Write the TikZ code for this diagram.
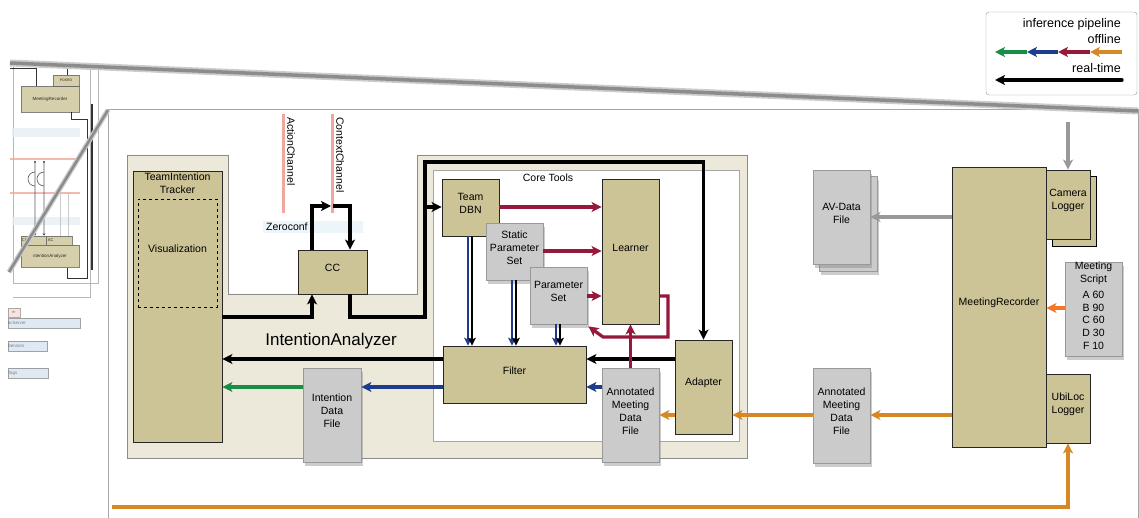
\documentclass[tikz,border=0pt]{standalone}
\usepackage{fontspec}
\setmainfont{Liberation Sans}
\usetikzlibrary{arrows.meta,shadows,fit,calc}
\definecolor{khaki}{RGB}{204,196,150}
\definecolor{bgbeige}{RGB}{236,233,218}
\definecolor{filegrey}{RGB}{203,203,203}
\definecolor{cgreen}{RGB}{25,140,70}
\definecolor{cblue}{RGB}{30,60,140}
\definecolor{cred}{RGB}{150,25,60}
\definecolor{corange}{RGB}{215,135,35}
\definecolor{corangeb}{RGB}{242,120,40}
\definecolor{pinkline}{RGB}{240,168,158}
\definecolor{zeroblue}{RGB}{236,245,250}
\definecolor{thumbblue}{RGB}{214,228,240}
\tikzset{
  box/.style={draw=black!85, fill=khaki, line width=0.8pt, inner sep=0pt, align=center, font=\fontsize{10.5}{13}\selectfont},
  filebox/.style={box, fill=filegrey, draw=black!40, drop shadow={shadow xshift=2pt, shadow yshift=-4pt, opacity=0.4}},
  lbl/.style={font=\fontsize{10.5}{13}\selectfont, align=center, inner sep=1pt},
  arr/.style={line width=3.2pt, -{Stealth[length=10pt,width=10pt,inset=2.5pt]}},
  thinarr/.style={line width=2.6pt, -{Stealth[length=8pt,width=8pt,inset=2pt]}},
  blk/.style={arr, draw=black},
  grn/.style={arr, draw=cgreen},
  blu/.style={arr, draw=cblue},
  rd/.style={arr, draw=cred},
  org/.style={arr, draw=corange},
  gry/.style={arr, draw=black!40},
  tbox/.style={draw=black!60, fill=khaki, line width=0.5pt, inner sep=0pt, font=\fontsize{4.5}{5}\selectfont},
  tblue/.style={draw=black!45, fill=thumbblue, line width=0.5pt, inner sep=0pt, font=\fontsize{4.5}{5}\selectfont, text=black!60},
}
\begin{document}
\begin{tikzpicture}[x=1pt,y=-1pt]
\useasboundingbox (0,0) rectangle (1139,518);
\fill[white] (0,0) rectangle (1139,518);

% ---------- thumbnail (faded) ----------
\begin{scope}[opacity=0.8]
  \draw[black!35, line width=0.7pt] (13,63) rectangle (98,283);
  \draw[black!35, line width=0.7pt] (13,297) -- (90,297) -- (90,63);
  \fill[thumbblue!60] (12,128) rectangle (80,137);
  \fill[thumbblue!60] (12,217) rectangle (80,225);
  \draw[pinkline, line width=2.5pt] (10,159) -- (80,159);
  \draw[pinkline, line width=2.5pt] (10,193) -- (80,193);
  \node[tbox, fit={(21,86) (79,112)}] (tmr) {};
  \node[font=\fontsize{4.5}{5}\selectfont, inner sep=0pt] (tmrl) at (tmr.center) {MeetingRecorder};
  \node[tbox, fit={(53,75) (79,86)}] (tpos) {};
  \node[font=\fontsize{3.5}{4}\selectfont, inner sep=0pt] (tposl) at (tpos.center) {POSRD};
  \draw[black, line width=0.7pt] (10,68) -- (36,68) -- (tmr.north -| 36,0);
  \draw[black, line width=0.7pt] (67,63) -- (tpos.north -| 67,0);
  \draw[black, line width=0.7pt] (tmr.south -| 71,0) -- (71,119) -- (87,119) -- (87,278) -- (67,278) -- (67,268);
  \draw[black, line width=1.6pt] (92,104) -- (92,270);
  \node[tbox, fit={(21,236) (46,245)}] (tcc) {};
  \node[font=\fontsize{4}{4.5}\selectfont, inner sep=0pt, anchor=west] (tccl) at ([xshift=1pt]tcc.west) {CC};
  \node[tbox, fit={(46,236) (72,245)}] (tac) {};
  \node[font=\fontsize{4}{4.5}\selectfont, inner sep=0pt, anchor=west] (tacl) at ([xshift=2pt]tac.west) {AC};
  \node[tbox, fit={(21,245) (79,267)}] (tia) {};
  \node[font=\fontsize{4.5}{5}\selectfont, inner sep=0pt] (tial) at (tia.center) {ntentionAnalyzer};
  \draw[black!80, line width=0.6pt, -{Stealth[length=2.5pt,width=2.5pt]}] (35,162) -- (35,186) arc[start angle=-90, end angle=-270, radius=7pt] -- (tcc.north -| 35,0);
  \draw[black!80, line width=0.6pt, -{Stealth[length=2.5pt,width=2.5pt]}] (44,162) -- (44,186) arc[start angle=-90, end angle=-270, radius=7pt] -- (tcc.north -| 44,0);
  \fill[black] (35,162) circle (1pt) (44,162) circle (1pt);
  \draw[black!25, line width=0.4pt] (60,193) -- (60,236) (68,193) -- (68,236);
  \node[draw=black!40, fill=pinkline!40, inner sep=0pt, fit={(8,308) (20,317)}] (ter) {};
  \node[font=\fontsize{4}{4.5}\selectfont, inner sep=0pt, text=black!60] (terl) at (ter.center) {er};
  \node[tblue, fit={(8,318) (80,328)}] (tserver) {};
  \node[font=\fontsize{4.5}{5}\selectfont, inner sep=0pt, anchor=west, text=black!60] (tserverl) at (tserver.west) {ocServer};
  \node[tblue, fit={(8,341) (47,351)}] (tsens) {};
  \node[font=\fontsize{4.5}{5}\selectfont, inner sep=0pt, anchor=west, text=black!60] (tsensl) at (tsens.west) {Sensors};
  \node[tblue, fit={(8,368) (48,378)}] (ttags) {};
  \node[font=\fontsize{4.5}{5}\selectfont, inner sep=0pt, anchor=west, text=black!60] (ttagsl) at (ttags.west) {Tags};
\end{scope}

% ---------- big frame and zoom bands ----------
\draw[black!35, line width=1pt] (108,520) -- (108,110) -- (1138,110) -- (1138,520);
\draw[black!20, line width=7pt] (10,63) -- (1138,111);
\draw[black!45, line width=3.5pt] (10,63) -- (1138,111);
\draw[black!20, line width=5pt] (9,272) -- (108,110);
\draw[black!45, line width=2.5pt] (9,272) -- (108,110);

% ---------- legend ----------
\node[draw=black!40, fill=white, rounded corners=3pt, inner sep=0pt, fit={(986,12) (1137,95)}] (legend) {};
\node[lbl, font=\fontsize{12.5}{14}\selectfont, anchor=east] (lg1) at (1122,24) {inference pipeline};
\node[lbl, font=\fontsize{12.5}{14}\selectfont, anchor=east] (lg2) at (1122,39) {offline};
\node[lbl, font=\fontsize{12.5}{14}\selectfont, anchor=east] (lg3) at (1122,68) {real-time};
\coordinate (la0) at (1122,52);
\coordinate (la1) at (1090,52);
\coordinate (la2) at (1058,52);
\coordinate (la3) at (1027,52);
\coordinate (la4) at (995,52);
\draw[org] (la0) -- (la1);
\draw[rd] (la1) -- (la2);
\draw[blu] (la2) -- (la3);
\draw[grn] (la3) -- (la4);
\coordinate (lb0) at (1122,80);
\coordinate (lb1) at (995,80);
\draw[blk, line cap=round] (lb0) -- (lb1);

% ---------- IntentionAnalyzer region ----------
\draw[black!45, line width=0.8pt, fill=bgbeige] (127,155) -- (228,155) -- (228,294) -- (417,294) -- (417,155) -- (747,155) -- (747,458) -- (127,458) -- cycle;
\draw[black!35, line width=0.8pt, fill=white] (433,170) rectangle (739,441);
\node[lbl] (coretools) at (548,178) {Core Tools};
\node[lbl, font=\fontsize{17}{19}\selectfont] (ialbl) at (331,341) {IntentionAnalyzer};

% channels
\fill[zeroblue] (263,221) rectangle (363,233);
\node[lbl, anchor=west] (zeroconf) at (265,227) {Zeroconf};
\draw[pinkline, line width=3pt] (283,114) -- (283,213);
\draw[pinkline, line width=3pt] (332,114) -- (332,213);
\node[lbl, rotate=-90, anchor=south west, inner sep=0pt] (actlbl) at (287,117) {ActionChannel};
\node[lbl, rotate=-90, anchor=south west, inner sep=0pt] (ctxlbl) at (336,117) {ContextChannel};

% boxes
\node[box, fit={(133,171) (222,442)}] (tracker) {};
\node[lbl, anchor=north] (trackerlbl) at (177.5,172) {TeamIntention\\Tracker};
\node[draw=black, dashed, line width=0.7pt, inner sep=0pt, fit={(139,200) (216,306)}, lbl] (vis) {Visualization};
\node[box, fit={(298,250) (367,294)}] (cc) {CC};
\node[box, fit={(442,179) (499,236)}] (dbn) {Team\\DBN};
\node[filebox, fit={(486,223) (543,280)}] (static) {Static\\Parameter\\Set};
\node[filebox, fit={(530,267) (587,324)}] (pset) {Parameter\\Set};
\node[box, fit={(602,179) (659,324)}] (learner) {Learner};
\node[box, fit={(443,346) (586,403)}] (filter) {Filter};
\node[box, fit={(675,340) (732,434)}] (adapter) {Adapter};
\node[filebox, fit={(602,368) (659,462)}] (annin) {Annotated\\Meeting\\Data\\File};
\node[filebox, fit={(303,368) (361,462)}] (idf) {Intention\\Data\\File};

% right side
\node[filebox, fit={(819,176) (877,271)}] (avback) {};
\node[filebox, fit={(813,170) (870,264)}] (av) {AV-Data\\File};
\node[box, fit={(952,167) (1046,447)}] (mr) {MeetingRecorder};
\node[box, draw=black, fit={(1052,176) (1096,246)}] (camback) {};
\node[box, fit={(1046,170) (1090,239)}] (cam) {Camera\\Logger};
\node[filebox, fit={(1065,262) (1122,356)}] (script) {};
\node[lbl, anchor=north, font=\fontsize{10.5}{12.6}\selectfont] (scripttxt) at ([yshift=1pt]script.north) {Meeting\\Script\\[4pt]A 60\\B 90\\C 60\\D 30\\F 10};
\node[box, fit={(1046,374) (1090,443)}] (ubi) {UbiLoc\\Logger};
\node[filebox, fit={(813,368) (870,463)}] (annout) {Annotated\\Meeting\\Data\\File};

% ---------- connectors ----------
% real-time (black)
\draw[blk] (adapter.west |- 0,359) -- (filter.east |- 0,359);
\draw[blk] (filter.west |- 0,359) -- (tracker.east |- 0,359);
\draw[blk] (tracker.east |- 0,317) -| (cc.south -| 312,0);
\draw[blk] (cc.south -| 350,0) |- (425,317) -- (425,162) -| (adapter.north);
\draw[blk] (425,207) -- (dbn.west |- 0,207);
\draw[blk] (cc.north -| 312,0) |- (331,206);
\draw[blk] (333,206) -| (cc.north -| 350,0);
% offline pipeline
\draw[blu] (annin.west |- 0,387) -- (filter.east |- 0,387);
\draw[blu] (filter.west |- 0,387) -- (idf.east |- 0,387);
\draw[grn] (idf.west |- 0,387) -- (tracker.east |- 0,387);
\draw[org] (adapter.west |- 0,415) -- (annin.east |- 0,415);
\draw[org] (annout.west |- 0,415) -- (adapter.east |- 0,415);
\draw[org] (mr.west |- 0,415) -- (annout.east |- 0,415);
\draw[arr, draw=corangeb] (script.west |- 0,308) -- (mr.east |- 0,308);
\coordinate (obl) at (112,507);
\draw[org] (obl) -| (ubi.south);
\draw[gry] (mr.west |- 0,217) -- (av.east |- 0,217);
\coordinate (camin) at (1068,122);
\draw[gry] (camin) -- (cam.north);
% learner
\draw[rd] (dbn.east |- 0,207) -- (learner.west |- 0,207);
\draw[rd] (static.east |- 0,251) -- (learner.west |- 0,251);
\draw[rd] (pset.east |- 0,296) -- (learner.west |- 0,296);
\draw[rd] (learner.east |- 0,296) -- (668,296) -- (668,337) -- (603,337) -- ([xshift=1pt,yshift=-2pt]pset.south east);
\draw[rd] (annin.north) -- (learner.south);
% model/parameters to filter
\draw[thinarr, draw=cblue] (dbn.south -| 468,0) -- (filter.north -| 468,0);
\draw[thinarr, draw=black] (dbn.south -| 472,0) -- (filter.north -| 472,0);
\draw[thinarr, draw=cblue] (static.south -| 512,0) -- (filter.north -| 512,0);
\draw[thinarr, draw=black] (static.south -| 516,0) -- (filter.north -| 516,0);
\draw[thinarr, draw=cblue] (pset.south -| 556,0) -- (filter.north -| 556,0);
\draw[thinarr, draw=black] (pset.south -| 560,0) -- (filter.north -| 560,0);
\end{tikzpicture}
\end{document}
